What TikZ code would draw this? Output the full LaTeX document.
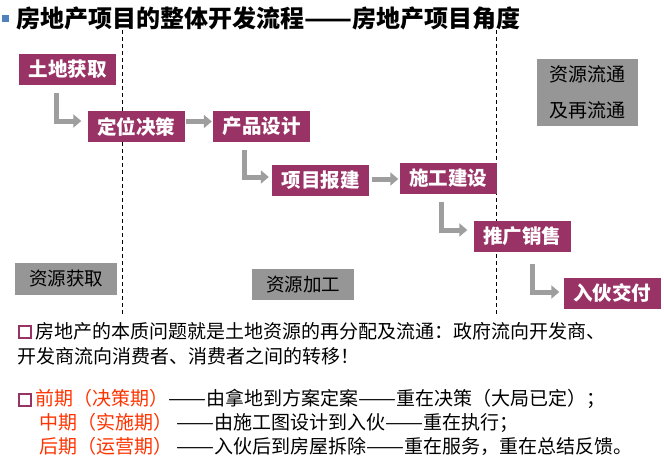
\documentclass[tikz,border=0pt]{standalone}
\usepackage{fontspec}
\usepackage{graphicx}
\newfontfamily\cjk{Noto Sans CJK SC}
\usetikzlibrary{arrows.meta,calc}
\definecolor{boxred}{RGB}{153,51,102}
\definecolor{boxgray}{RGB}{150,150,150}
\definecolor{arrgray}{RGB}{158,158,158}
\definecolor{orangered}{RGB}{255,51,0}
\definecolor{bulletblue}{RGB}{79,129,189}
\newcommand\longdash{\resizebox{2em}{\height}{——}}
\begin{document}
\begin{tikzpicture}[x=1pt,y=-1pt,
  stepbox/.style={fill=boxred, text=white, font=\cjk\bfseries\fontsize{19.5}{19.5}\selectfont, inner sep=0pt, minimum width=97pt, minimum height=31pt},
  graybox/.style={fill=boxgray, text=black, font=\cjk\fontsize{18.5}{18.5}\selectfont, inner sep=0pt, minimum width=102pt, minimum height=32pt},
  flow/.style={draw=arrgray, line width=5pt, -{Triangle[length=8pt,width=13pt]}},
  divider/.style={draw=black, dash pattern=on 4pt off 3pt, line width=0.8pt},
  body/.style={font=\cjk\fontsize{19}{19}\selectfont, anchor=west, inner sep=0pt},
  sqbullet/.style={draw=boxred, line width=2.4pt, minimum size=12.5pt, inner sep=0pt}
]
\useasboundingbox[fill=white] (0,0) rectangle (664,458);

% title
\node[fill=bulletblue, minimum size=7pt, inner sep=0pt] (tb) at (5.5,18.5) {};
\node[font=\cjk\bfseries\fontsize{24}{24}\selectfont, anchor=west, inner sep=0pt] (title) at (16,18) {房地产项目的整体开发流程\longdash 房地产项目角度};

% dividers
\coordinate (d1t) at (122,30);
\coordinate (d1b) at (122,315);
\coordinate (d2t) at (496,30);
\coordinate (d2b) at (496,315);
\draw[divider] (d1t) -- (d1b);
\draw[divider] (d2t) -- (d2b);

% step boxes
\node[stepbox] (b1) at (67.5,69.5) {土地获取};
\node[stepbox] (b2) at (136,126.5) {定位决策};
\node[stepbox] (b3) at (261.5,126.5) {产品设计};
\node[stepbox] (b4) at (320.5,180.5) {项目报建};
\node[stepbox] (b5) at (448,178.5) {施工建设};
\node[stepbox] (b6) at (522,236.5) {推广销售};
\node[stepbox] (b7) at (612,293) {入伙交付};

% gray boxes
\node[graybox] (g1) at (66,278.5) {资源获取};
\node[graybox, minimum height=31pt] (g2) at (303,284.5) {资源加工};
\node[graybox, minimum width=101pt, minimum height=67pt, align=center, font=\cjk\fontsize{19}{36}\selectfont] (g3) at (587.5,92.5) {资源流通\\及再流通};

% arrows
\draw[flow] ($(b1.south)+(-11.5,8)$) |- ($(b2.west)+(-6,-5.5)$);
\draw[flow] ($(b2.east)+(1,-5)$) -- ($(b3.west)+(-1,-5)$);
\draw[flow] ($(b3.south)+(-17.5,8)$) |- ($(b4.west)+(-3,-3.5)$);
\draw[flow] ($(b4.east)+(3,-1.5)$) -- ($(b5.west)+(-1,0.5)$);
\draw[flow] ($(b5.south)+(-7,8)$) |- ($(b6.west)+(-6,-6.5)$);
\draw[flow] ($(b6.south)+(10,12)$) |- ($(b7.west)+(-4,-1)$);

% body text
\node[sqbullet] (s1) at (25,332) {};
\node[body] (t1) at (35,331) {房地产的本质问题就是土地资源的再分配及流通：政府流向开发商、};
\node[body] (t2) at (17,356) {开发商流向消费者、消费者之间的转移！};
\node[sqbullet] (s3) at (25,400) {};
\node[body] (t3) at (35,399) {\textcolor{orangered}{前期（决策期）}\longdash 由拿地到方案定案\longdash 重在决策（大局已定）；};
\node[body] (t4) at (39,423) {\textcolor{orangered}{中期（实施期）} \longdash 由施工图设计到入伙\longdash 重在执行；};
\node[body] (t5) at (39,446) {\textcolor{orangered}{后期（运营期）} \longdash 入伙后到房屋拆除\longdash 重在服务，重在总结反馈。};
\end{tikzpicture}
\end{document}
